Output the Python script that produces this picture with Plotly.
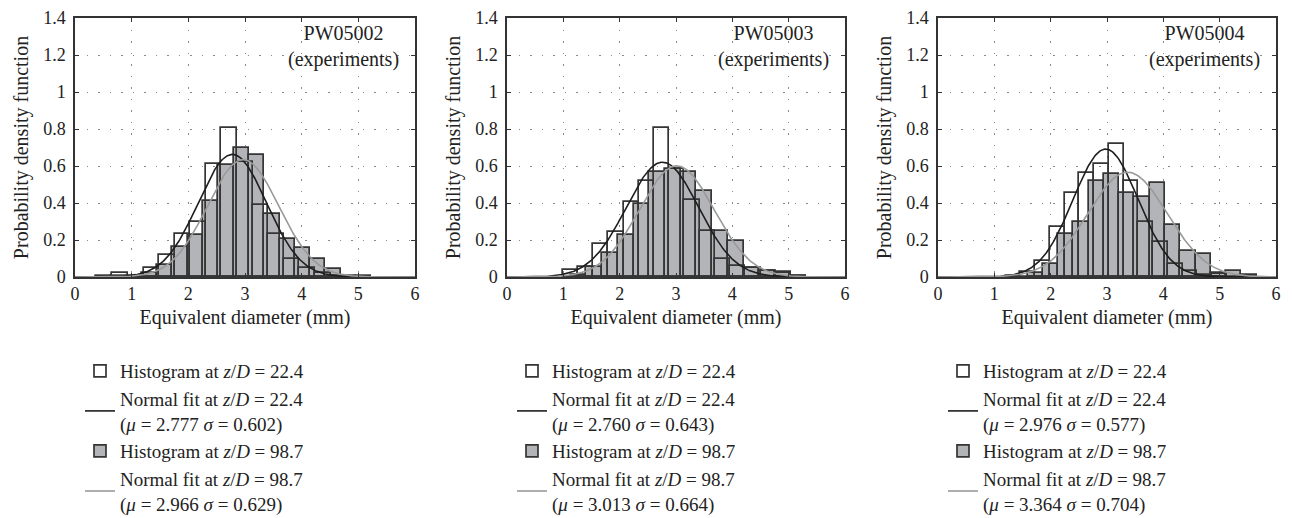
import numpy as np
import plotly.graph_objects as go

# ---------------- data ----------------
panel_names = ["PW05002", "PW05003", "PW05004"]
x_ticks = [0, 1, 2, 3, 4, 5, 6]
y_ticks = [0, 0.2, 0.4, 0.6, 0.8, 1.0, 1.2, 1.4]
x_title = "Equivalent diameter (mm)"
y_title = "Probability density function"

# normal fit parameters
mu_224 = [2.777, 2.760, 2.976]
sigma_224 = [0.602, 0.643, 0.577]
mu_987 = [2.966, 3.013, 3.364]
sigma_987 = [0.629, 0.664, 0.704]

# histogram at z/D = 22.4 (first bin left edge, bin width, densities)
h224_start = [0.66, 0.99, 1.20]
h224_width = [0.275, 0.27, 0.262]
h224_p1 = [0.023, 0.0, 0.05, 0.12, 0.23, 0.30, 0.61, 0.805, 0.62, 0.39, 0.235, 0.10, 0.05, 0.02, 0.005]
h224_p2 = [0.037, 0.055, 0.177, 0.245, 0.408, 0.52, 0.806, 0.585, 0.417, 0.25, 0.10, 0.06, 0.048, 0.032, 0.02, 0.005]
h224_p3 = [0.005, 0.028, 0.086, 0.27, 0.452, 0.564, 0.61, 0.717, 0.518, 0.30, 0.187, 0.07, 0.035, 0.01, 0.015]

# histogram at z/D = 98.7
h987_start = [0.37, 1.13, 1.59]
h987_width = [0.27, 0.279, 0.271]
h987_p1 = [0.004, 0.004, 0.008, 0.02, 0.065, 0.16, 0.225, 0.41, 0.606, 0.695, 0.657, 0.34, 0.205, 0.155, 0.095, 0.044, 0.005, 0.003]
h987_p2 = [0.01, 0.055, 0.13, 0.228, 0.393, 0.57, 0.585, 0.567, 0.466, 0.25, 0.196, 0.05, 0.03, 0.025, 0.003]
h987_p3 = [0.023, 0.068, 0.23, 0.30, 0.518, 0.555, 0.452, 0.435, 0.51, 0.28, 0.14, 0.126, 0.021, 0.035, 0.012]

h224_vals = [h224_p1, h224_p2, h224_p3]
h987_vals = [h987_p1, h987_p2, h987_p3]

# ---------------- style ----------------
# the page body has an 8px margin, so the figure is 1284x510 placed at (8, 8)
W, H = 1284, 510
FONT = "Liberation Serif, DejaVu Serif, serif"
TXT = "#222222"
AX = "#333333"
GRAY_FILL = "#b3b4b7"
BAR_LINE = "#353535"
FIT_DARK = "#1e1e1e"
FIT_GRAY = "#9a9a9a"

plot_left_px = [67, 499, 930]
plot_right_px = [407, 837, 1268]
plot_top_px, plot_bottom_px = 10, 269
legend_top_px = 344

fig = go.Figure()
legend_names = ["legend", "legend2", "legend3"]
xs = np.linspace(0, 6, 400)


def pdf(x, m, s):
    return np.exp(-0.5 * ((x - m) / s) ** 2) / (s * np.sqrt(2 * np.pi))


for i in range(3):
    xa = "x" if i == 0 else f"x{i+1}"
    ya = "y" if i == 0 else f"y{i+1}"
    lg = legend_names[i]

    v987 = h987_vals[i]
    c987 = [h987_start[i] + h987_width[i] * (k + 0.5) for k in range(len(v987))]
    v224 = h224_vals[i]
    c224 = [h224_start[i] + h224_width[i] * (k + 0.5) for k in range(len(v224))]

    # gray histogram drawn first
    fig.add_trace(go.Bar(
        x=c987, y=v987, width=h987_width[i], xaxis=xa, yaxis=ya,
        marker=dict(color=GRAY_FILL, line=dict(color=BAR_LINE, width=1.7)),
        name="Histogram at <i>z</i>/<i>D</i> = 98.7", legend=lg, legendrank=3,
    ))
    # open histogram on top
    fig.add_trace(go.Bar(
        x=c224, y=v224, width=h224_width[i], xaxis=xa, yaxis=ya,
        marker=dict(color="rgba(255,255,255,0)", line=dict(color=BAR_LINE, width=1.7)),
        name="Histogram at <i>z</i>/<i>D</i> = 22.4", legend=lg, legendrank=1,
    ))
    fig.add_trace(go.Scatter(
        x=xs, y=pdf(xs, mu_224[i], sigma_224[i]), mode="lines", xaxis=xa, yaxis=ya,
        line=dict(color=FIT_DARK, width=1.6),
        name=f"Normal fit at <i>z</i>/<i>D</i> = 22.4<br>(<i>μ</i> = {mu_224[i]:.3f} <i>σ</i> = {sigma_224[i]:.3f})",
        legend=lg, legendrank=2,
    ))
    fig.add_trace(go.Scatter(
        x=xs, y=pdf(xs, mu_987[i], sigma_987[i]), mode="lines", xaxis=xa, yaxis=ya,
        line=dict(color=FIT_GRAY, width=1.6),
        name=f"Normal fit at <i>z</i>/<i>D</i> = 98.7<br>(<i>μ</i> = {mu_987[i]:.3f} <i>σ</i> = {sigma_987[i]:.3f})",
        legend=lg, legendrank=4,
    ))

    dom_x = [plot_left_px[i] / W, plot_right_px[i] / W]
    dom_y = [1 - plot_bottom_px / H, 1 - plot_top_px / H]
    axis_common = dict(
        showline=True, linecolor=AX, linewidth=1.5, mirror="ticks",
        ticks="inside", ticklen=4, tickcolor=AX, tickwidth=1.2,
        showgrid=True, gridcolor="#8a8a8a", gridwidth=1, griddash="1.5px,10px",
        zeroline=False, automargin=False, ticklabeloverflow="allow",
        tickfont=dict(family=FONT, size=18, color=TXT),
    )
    xkey = "xaxis" if i == 0 else f"xaxis{i+1}"
    ykey = "yaxis" if i == 0 else f"yaxis{i+1}"
    fig.update_layout({
        xkey: dict(
            domain=dom_x, anchor=ya, range=[0, 6], tickvals=x_ticks,
            title=dict(text=x_title, standoff=7,
                       font=dict(family=FONT, size=20, color=TXT)),
            **axis_common,
        ),
        ykey: dict(
            domain=dom_y, anchor=xa, range=[0, 1.4], tickvals=y_ticks,
            ticktext=[f"{v:g}" for v in y_ticks], ticklabelstandoff=4,
            title=dict(text=y_title, standoff=9,
                       font=dict(family=FONT, size=20, color=TXT)),
            **axis_common,
        ),
    })
    fig.add_annotation(
        xref=f"{xa} domain", yref=f"{ya} domain", x=0.958,
        y=0.992, xanchor="right", yanchor="top", align="center", showarrow=False,
        text=f"{panel_names[i]}<br>(experiments)",
        font=dict(family=FONT, size=20, color=TXT),
    )
    fig.update_layout({
        lg: dict(
            x=(plot_left_px[i] + 5) / W, y=1 - legend_top_px / H,
            xanchor="left", yanchor="top",
            bgcolor="rgba(0,0,0,0)", borderwidth=0,
            font=dict(family=FONT, size=19, color=TXT),
            traceorder="normal",
        )
    })

fig.update_layout(
    width=W, height=H,
    margin=dict(l=0, r=0, t=0, b=0, autoexpand=False),
    paper_bgcolor="white", plot_bgcolor="white",
    barmode="overlay", bargap=0,
    font=dict(family=FONT, size=19, color=TXT),
)

fig.write_html("out.html")
